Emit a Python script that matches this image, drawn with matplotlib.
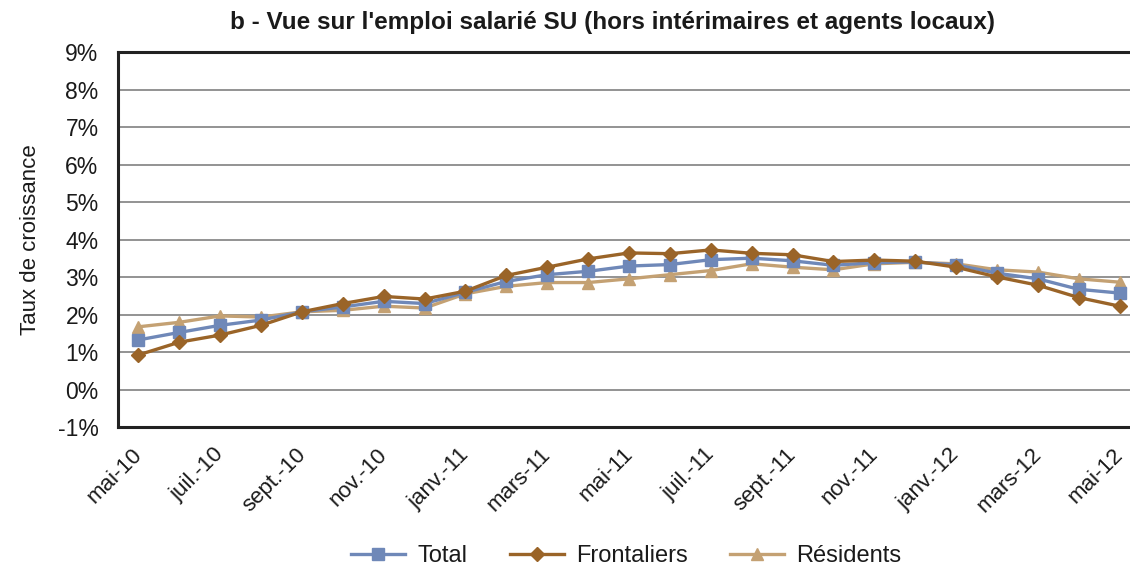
import numpy as np
import matplotlib.pyplot as plt
import matplotlib.transforms as mtransforms
from matplotlib.ticker import FuncFormatter

plt.rcParams['font.family'] = ['Liberation Sans', 'DejaVu Sans']

# data (taux de croissance, %)
mois = ["mai-10", "juin-10", "juil.-10", "août-10", "sept.-10", "oct.-10", "nov.-10",
        "déc.-10", "janv.-11", "févr.-11", "mars-11", "avr.-11", "mai-11", "juin-11",
        "juil.-11", "août-11", "sept.-11", "oct.-11", "nov.-11", "déc.-11", "janv.-12",
        "févr.-12", "mars-12", "avr.-12", "mai-12"]

total = [1.33, 1.53, 1.72, 1.86, 2.08, 2.21, 2.36, 2.30, 2.60, 2.89, 3.07, 3.16, 3.30,
         3.34, 3.47, 3.51, 3.44, 3.32, 3.39, 3.41, 3.33, 3.11, 2.96, 2.68, 2.58]
frontaliers = [0.93, 1.27, 1.46, 1.72, 2.08, 2.30, 2.49, 2.42, 2.63, 3.05, 3.27, 3.49, 3.65,
               3.63, 3.73, 3.64, 3.60, 3.42, 3.46, 3.43, 3.27, 3.01, 2.79, 2.46, 2.23]
residents = [1.68, 1.80, 1.97, 1.94, 2.08, 2.12, 2.23, 2.18, 2.56, 2.76, 2.86, 2.86, 2.96,
             3.07, 3.18, 3.36, 3.27, 3.20, 3.36, 3.40, 3.36, 3.20, 3.14, 2.96, 2.87]

x = np.arange(len(mois))

fig = plt.figure(figsize=(11.3, 5.69), dpi=100)
ax = fig.add_axes([118 / 1130, 1 - 427.3 / 569, 1022 / 1130, 375 / 569])

ax.plot(x, total, color='#6F88B8', lw=2.4, marker='s', ms=8.5, label='Total', zorder=3)
ax.plot(x, frontaliers, color='#9A6428', lw=2.4, marker='D', ms=7, label='Frontaliers', zorder=4)
ax.plot(x, residents, color='#C4A173', lw=2.4, marker='^', ms=8.5, label='Résidents', zorder=2)

ax.set_xlim(-0.5, 24.5)
ax.set_ylim(-1, 9)
ax.set_yticks(range(-1, 10))
ax.yaxis.set_major_formatter(FuncFormatter(lambda v, p: f"{v:.0f}%"))
ax.set_xticks(x[::2])
ax.set_xticklabels(mois[::2], rotation=45, ha='right', rotation_mode='anchor')
ax.tick_params(axis='both', length=0, labelsize=16.5, colors='#1a1a1a')
ax.tick_params(axis='x', pad=12, labelsize=16)
ax.tick_params(axis='y', pad=14)

# shift the rotated labels a little to the left, like the reference
shift = mtransforms.ScaledTranslation(-7 / 100, 0, fig.dpi_scale_trans)
for lbl in ax.get_xticklabels():
    lbl.set_transform(lbl.get_transform() + shift)

ax.grid(axis='y', color='#808080', lw=1.2)
ax.set_axisbelow(True)
for s in ['left', 'top', 'bottom']:
    ax.spines[s].set_linewidth(2.2)
    ax.spines[s].set_color('#222222')
ax.spines['right'].set_visible(False)

ax.set_ylabel("Taux de croissance", fontsize=16, labelpad=12, color='#1a1a1a')
fig.text(0.542, 0.96, "b - Vue sur l'emploi salarié SU (hors intérimaires et agents locaux)",
         ha='center', va='center', fontsize=17.5, fontweight='bold', color='#1a1a1a')

fig.legend(loc='center', bbox_to_anchor=(0.554, 0.023), ncol=3, frameon=False,
           fontsize=17, handlelength=2.3, columnspacing=1.8, handletextpad=0.5,
           labelcolor='#1a1a1a')

fig.savefig("out.png", dpi=100)
